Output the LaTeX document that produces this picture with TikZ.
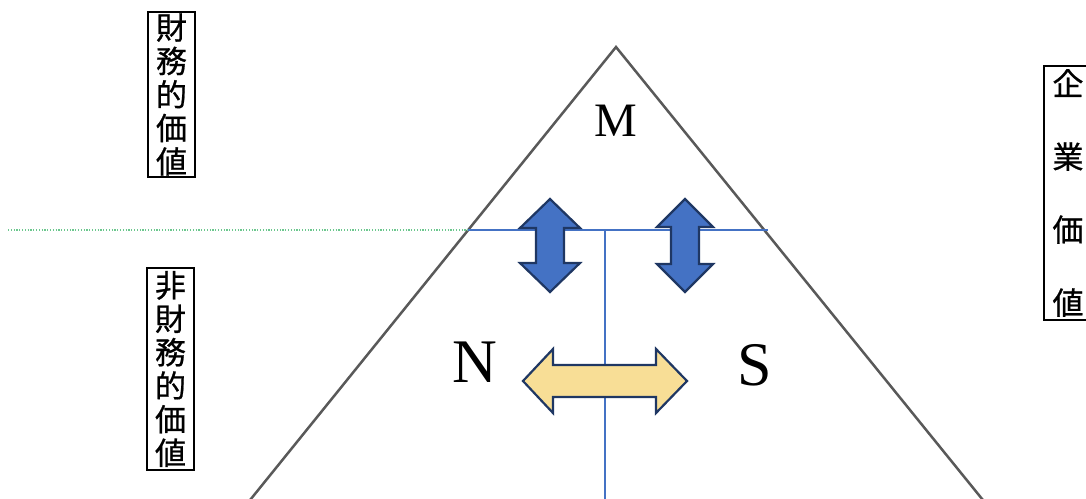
\documentclass[tikz,border=0pt]{standalone}
\usepackage{fontspec}
\setmainfont{Liberation Serif}
\newfontfamily\jpfont[FakeBold=0.7]{Noto Sans CJK JP}
\definecolor{edgegray}{HTML}{595959}
\definecolor{lineblue}{HTML}{4472C4}
\definecolor{arrowblue}{HTML}{4472C4}
\definecolor{arrownavy}{HTML}{1F3763}
\definecolor{arrowyellow}{HTML}{F8DE96}
\definecolor{dotgreen}{HTML}{6CC78E}
\tikzset{
  tri/.style={draw=edgegray, line width=2.5pt},
  divider/.style={draw=lineblue, line width=1.3pt},
  guide/.style={draw=dotgreen, line width=1.2pt, dash pattern=on 1.2pt off 1.6pt},
  vlabel/.style={draw=black, line width=1.8pt, inner sep=0pt, align=center,
                 font=\jpfont\fontsize{31}{33.5}\selectfont},
  letter/.style={inner sep=0pt, font=\fontsize{62}{62}\selectfont},
  bluearrow/.style={fill=arrowblue, draw=arrownavy, line width=2.2pt, line join=miter},
  yellowarrow/.style={fill=arrowyellow, draw=arrownavy, line width=2.2pt, line join=miter},
}
\begin{document}
\begin{tikzpicture}[x=1pt,y=-1pt]
\useasboundingbox (0,0) rectangle (1086,498);
\begin{scope}
\clip (0,0) rectangle (1086,498);

% pyramid outline
\coordinate (apex) at (616,47);
\coordinate (bl) at (242,510);
\coordinate (br) at (991,510);
\draw[tri, line join=miter] (bl) -- (apex) -- (br);

% dividing lines inside the pyramid
\coordinate (hl) at (468,230);
\coordinate (hr) at (768,230);
\coordinate (vt) at (605,230);
\coordinate (vb) at (605,510);
\coordinate (gl) at (8,230);
\draw[guide] (gl) -- (hl);
\draw[divider] (hl) -- (hr);
\draw[divider] (vt) -- (vb);

% vertical double arrows across the upper divider
\draw[bluearrow] (550,199) -- (580,228) -- (564,228) -- (564,263) -- (580,263)
  -- (550,292) -- (520,263) -- (536,263) -- (536,228) -- (520,228) -- cycle;
\draw[bluearrow] (685,199) -- (713,227) -- (699,227) -- (699,264) -- (713,264)
  -- (685,292) -- (657,264) -- (671,264) -- (671,227) -- (657,227) -- cycle;

% horizontal double arrow between N and S
\draw[yellowarrow] (523,381) -- (553,349) -- (553,365) -- (656,365) -- (656,349)
  -- (687,381) -- (656,413) -- (656,397) -- (553,397) -- (553,413) -- cycle;

% corner letters
\node[letter, font=\fontsize{48}{48}\selectfont] (m) at (616,121) {M};
\node[letter] (n) at (474.5,362.5) {N};
\node[letter] (s) at (755,365) {S};

% side labels
\node[vlabel, minimum width=47pt, minimum height=165pt] (fin) at (171.5,94.5)
  {財\\務\\的\\価\\値};
\node[vlabel, minimum width=47pt, minimum height=202pt] (nonfin) at (170.5,369)
  {非\\財\\務\\的\\価\\値};
\node[vlabel, font=\jpfont\fontsize{31}{73}\selectfont,
      minimum width=48pt, minimum height=254pt] (corp) at (1068,193)
  {企\\業\\価\\値};
\end{scope}
\end{tikzpicture}
\end{document}
